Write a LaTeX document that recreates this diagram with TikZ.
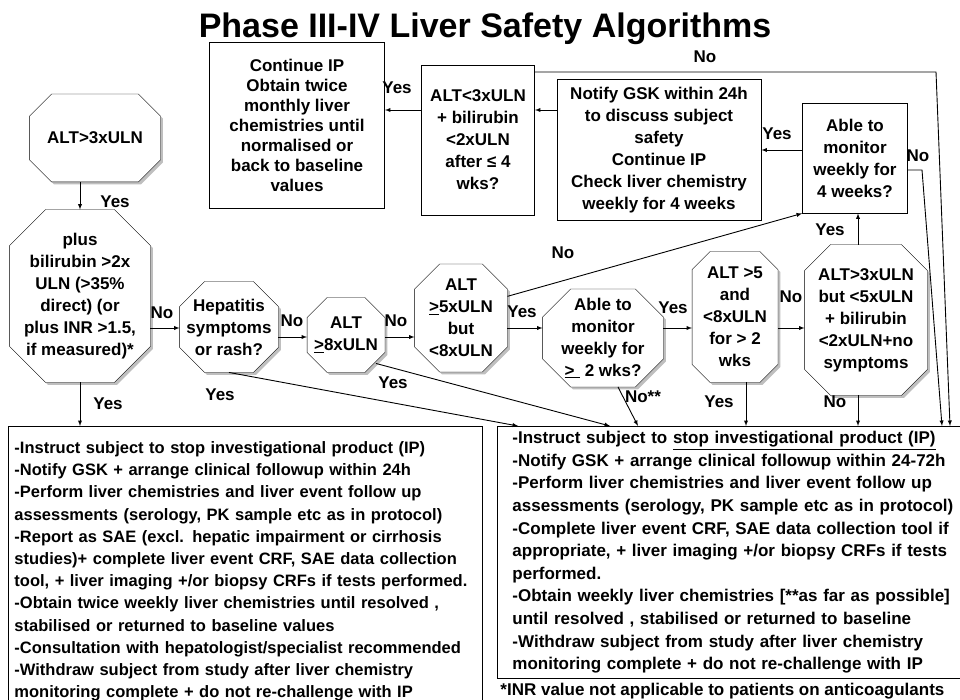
\documentclass[tikz,border=0pt]{standalone}
\usepackage{fontspec}
\setmainfont{Liberation Sans}
\usetikzlibrary{shadows,positioning,arrows,calc,backgrounds}

\newcommand\octpath[2]{($(#1.north west)+(#2,0)$) -- ($(#1.north east)+(-#2,0)$)
  -- ($(#1.north east)+(0,#2)$) -- ($(#1.south east)+(0,-#2)$)
  -- ($(#1.south east)+(-#2,0)$) -- ($(#1.south west)+(#2,0)$)
  -- ($(#1.south west)+(0,-#2)$) -- ($(#1.north west)+(0,#2)$) -- cycle}

\tikzset{
  octo/.style={rectangle, inner sep=0pt, align=center},
  octoline/.style={draw, fill=white,
    general shadow={fill=black!25, shadow xshift=2.5pt, shadow yshift=-2.5pt}},
  boxnode/.style={rectangle, draw, fill=white, inner sep=0pt, align=center},
  txtbox/.style={rectangle, draw, anchor=north west, align=left},
  lbl/.style={inner sep=0pt}
}

\begin{document}
\begin{tikzpicture}[x=1pt,y=-1pt,>=latex,line width=0.9pt,
  font=\bfseries\fontsize{17}{22}\selectfont]
  \useasboundingbox (0,0) rectangle (960,700);
  \node[font=\bfseries\fontsize{34}{40}\selectfont, anchor=base] (title) at (485,38) {Phase III-IV Liver Safety Algorithms};

  \node[octo, minimum width=130pt, minimum height=87pt] (a3) at (95,138) {ALT>3xULN};
  \node[octo, minimum width=140pt, minimum height=172pt] (plus) at (80,296) {plus\\bilirubin >2x\\ULN (>35\%\\direct) (or\\plus INR >1.5,\\if measured)*};
  \node[octo, minimum width=98pt, minimum height=90pt] (hep) at (229,327) {Hepatitis\\symptoms\\or rash?};
  \node[octo, minimum width=77pt, minimum height=74pt] (alt8) at (346,335) {ALT\\\underline{>}8xULN};
  \node[octo, minimum width=92pt, minimum height=107pt] (alt5) at (461,318) {ALT\\\underline{>}5xULN\\but\\<8xULN};
  \node[octo, minimum width=120pt, minimum height=97pt] (able2) at (603,338) {Able to\\monitor\\weekly for\\\underline{>\,\,} 2 wks?};
  \node[octo, minimum width=85pt, minimum height=130pt] (alt5b) at (735,317) {ALT >5\\and\\<8xULN\\for > 2\\wks};
  \node[octo, minimum width=122pt, minimum height=150pt] (alt3b) at (866,320) {ALT>3xULN\\but <5xULN\\+ bilirubin\\<2xULN+no\\symptoms};

  \begin{scope}[on background layer]
    \foreach \n/\c in {a3/22,plus/36,hep/25,alt8/20,alt5/25,able2/28,alt5b/18,alt3b/26}
      \path[octoline] \octpath{\n}{\c};
  \end{scope}

  \node[boxnode, minimum width=175pt, minimum height=166pt, font=\bfseries\fontsize{17}{20}\selectfont] (cont) at (297,125) {Continue IP\\Obtain twice\\monthly liver\\chemistries until\\normalised or\\back to baseline\\values};
  \node[boxnode, minimum width=113pt, minimum height=150pt] (alt3c) at (478,140) {ALT<3xULN\\+ bilirubin\\<2xULN\\after ≤ 4\\wks?};
  \node[boxnode, minimum width=204pt, minimum height=141pt] (notify) at (659,150) {Notify GSK within 24h\\to discuss subject\\safety\\Continue IP\\Check liver chemistry\\weekly for 4 weeks};
  \node[boxnode, minimum width=105pt, minimum height=110pt] (able4) at (855,158) {Able to\\monitor\\weekly for\\4 weeks?};

  \node[txtbox, minimum width=474pt, text width=462pt, inner xsep=6pt, inner ysep=15pt,
    font=\bfseries\fontsize{16.5}{22.2}\selectfont] (lbox) at (8,426) {-Instruct subject to stop investigational product (IP)\\-Notify GSK + arrange clinical followup within 24h\\-Perform liver chemistries and liver event follow up\\assessments (serology, PK sample etc as in protocol)\\-Report as SAE (excl. hepatic impairment or cirrhosis\\studies)+ complete liver event CRF, SAE data collection\\tool, + liver imaging +/or biopsy CRFs if tests performed.\\-Obtain twice weekly liver chemistries until resolved ,\\stabilised or returned to baseline values\\-Consultation with hepatologist/specialist recommended\\-Withdraw subject from study after liver chemistry\\monitoring complete + do not re-challenge with IP};
  \node[txtbox, text width=450pt, inner xsep=15pt, inner ysep=5pt,
    font=\bfseries\fontsize{17}{22.6}\selectfont] (rbox) at (497,426) {-Instruct subject to \underline{stop investigational product (IP)}\\-Notify GSK + arrange clinical followup within 24-72h\\-Perform liver chemistries and liver event follow up\\assessments (serology, PK sample etc as in protocol)\\-Complete liver event CRF, SAE data collection tool if\\appropriate, + liver imaging +/or biopsy CRFs if tests\\performed.\\-Obtain weekly liver chemistries [**as far as possible]\\until resolved , stabilised or returned to baseline\\-Withdraw subject from study after liver chemistry\\monitoring complete + do not re-challenge with IP};
  \coordinate (f0) at (500,695);
  \node[inner sep=0pt, anchor=base west] (fn) at (f0) {*INR value not applicable to patients on anticoagulants};

  \coordinate (r1) at (0,110);
  \coordinate (r2) at (0,328);
  \coordinate (r3) at (0,337);
  \coordinate (c1) at (936,72);
  \coordinate (c2) at (950,0);
  \coordinate (c3) at (922,170);
  \coordinate (c4) at (942,0);
  \coordinate (t2) at (746,0);
  \coordinate (t3) at (858,0);

  \draw[->] (plus.north |- a3.south) -- (plus.north);
  \draw[->] (plus.south) -- (plus.south |- lbox.north);
  \draw[->] (plus.east |- r2) -- (hep.west |- r2);
  \draw[->] (hep.east |- r3) -- (alt8.west |- r3);
  \draw[->] (alt8.east |- r3) -- (alt5.west |- r3);
  \draw[->] (alt5.east |- r2) -- (able2.west |- r2);
  \draw[->] (able2.east |- r2) -- (alt5b.west |- r2);
  \draw[->] (alt5b.east |- r2) -- (alt3b.west |- r2);
  \draw[->] (alt5.25) -- (able4.south west);
  \draw[->] (alt3b.north -| t3) -- (able4.south -| t3);
  \draw[->] (able4.west |- notify.east) -- (notify.east);
  \draw[->] (notify.west |- r1) -- (alt3c.east |- r1);
  \draw[->] (alt3c.west |- r1) -- (cont.east |- r1);
  \draw[->] (alt3c.east |- c1) -- (c1) -- (c2 |- rbox.north);
  \draw[->] (able4.east |- c3) -- (c3) -- (c4 |- rbox.north);
  \draw[->] (hep.south) -- ([xshift=21pt]rbox.north west);
  \draw[->] ($(alt8.south east)+(-9,-9)$) -- ([xshift=113pt]rbox.north west);
  \draw[->] (able2.-73) -- ([xshift=141pt]rbox.north west);
  \draw[->] (alt5b.south -| t2) -- (t2 |- rbox.north);
  \draw[->] (alt3b.south -| t3) -- (t3 |- rbox.north);

  \node[lbl] (y1) at (115,202) {Yes};
  \node[lbl] (y2) at (108,404) {Yes};
  \node[lbl] (n1) at (162,313) {No};
  \node[lbl] (n2) at (292,321) {No};
  \node[lbl] (n3) at (396,321) {No};
  \node[lbl] (y3) at (220,395) {Yes};
  \node[lbl] (y4) at (393,383) {Yes};
  \node[lbl] (y5) at (522,312) {Yes};
  \node[lbl] (n4) at (563,253) {No};
  \node[lbl] (y6) at (673,308) {Yes};
  \node[lbl] (n5) at (643,397) {No**};
  \node[lbl] (n6) at (791,297) {No};
  \node[lbl] (y7) at (719,402) {Yes};
  \node[lbl] (n7) at (835,402) {No};
  \node[lbl] (y8) at (830,230) {Yes};
  \node[lbl] (y9) at (777,134) {Yes};
  \node[lbl] (n8) at (918,156) {No};
  \node[lbl] (n9) at (705,57) {No};
  \node[lbl] (y10) at (397,88) {Yes};
\end{tikzpicture}
\end{document}
